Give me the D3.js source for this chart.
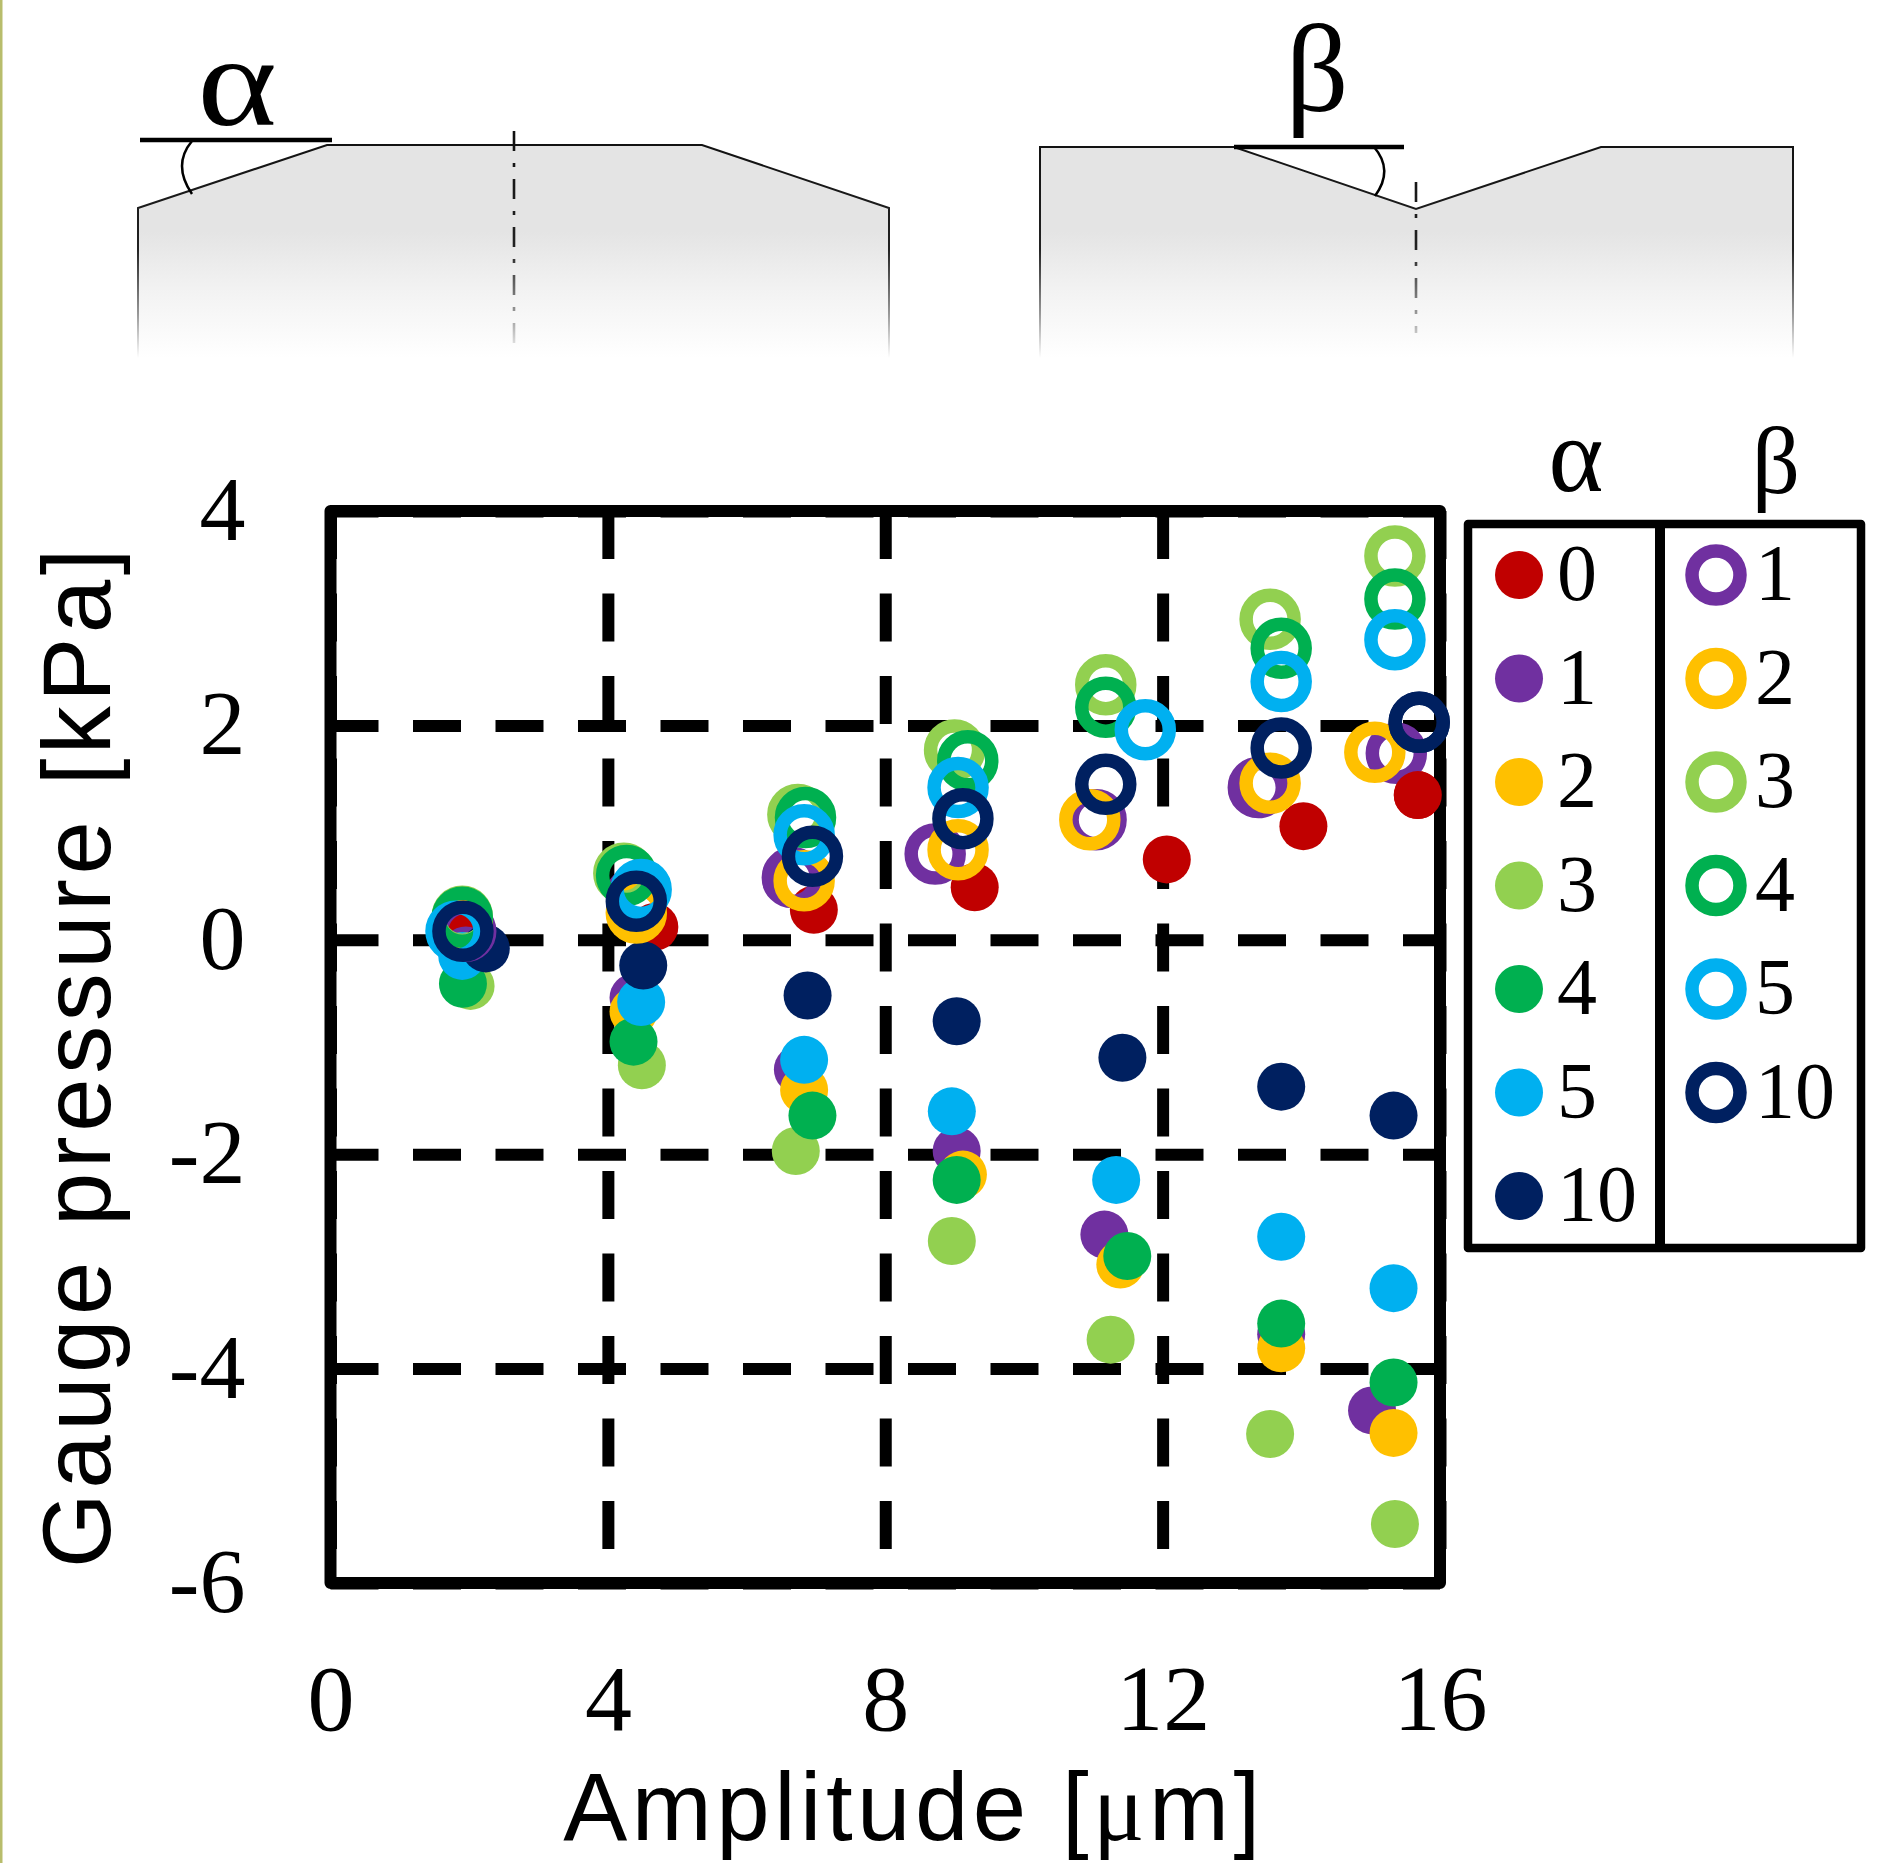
<!DOCTYPE html>
<html>
<head>
<meta charset="utf-8">
<script src="https://d3js.org/d3.v7.min.js"></script>
<style>
  html, body { margin: 0; padding: 0; background: #fff; }
  svg { display: block; }
  text { font-family: "Liberation Serif", serif; fill: #000; }
  .title { font-family: "Liberation Sans", sans-serif; }
</style>
</head>
<body>
<div id="chart"></div>
<script>
// [amplitude um, gauge pressure kPa]
var alpha0 = [[1.90, 0.05], [4.67, 0.12], [6.97, 0.28], [9.29, 0.49], [12.06, 0.75], [14.03, 1.06], [15.68, 1.35]];
var alpha1 = [[1.95, -0.10], [4.37, -0.54], [6.74, -1.21], [9.03, -1.97], [11.16, -2.75], [13.71, -3.68], [15.02, -4.39]];
var alpha2 = [[1.92, -0.15], [4.37, -0.67], [6.83, -1.40], [9.12, -2.19], [11.39, -3.03], [13.71, -3.81], [15.33, -4.60]];
var alpha3 = [[2.02, -0.43], [4.49, -1.17], [6.71, -1.97], [8.96, -2.81], [11.25, -3.73], [13.55, -4.61], [15.35, -5.45]];
var alpha4 = [[1.91, -0.41], [4.37, -0.95], [6.95, -1.64], [9.03, -2.24], [11.49, -2.95], [13.71, -3.58], [15.33, -4.13]];
var alpha5 = [[1.90, -0.15], [4.48, -0.58], [6.83, -1.12], [8.96, -1.60], [11.33, -2.24], [13.71, -2.77], [15.33, -3.25]];
var alpha10 = [[2.24, -0.08], [4.51, -0.24], [6.88, -0.52], [9.03, -0.76], [11.42, -1.10], [13.71, -1.37], [15.33, -1.64]];

var beta1 = [[1.95, 0.08], [4.41, 0.41], [6.66, 0.58], [8.72, 0.80], [11.04, 1.12], [13.38, 1.42], [15.37, 1.74]];
var beta2 = [[1.90, 0.16], [4.41, 0.25], [6.83, 0.55], [9.05, 0.84], [10.95, 1.12], [13.55, 1.46], [15.06, 1.75]];
var beta3 = [[1.90, 0.22], [4.23, 0.62], [6.74, 1.17], [9.00, 1.77], [11.18, 2.38], [13.55, 2.99], [15.35, 3.58]];
var beta4 = [[1.90, 0.21], [4.27, 0.60], [6.85, 1.14], [9.19, 1.67], [11.18, 2.17], [13.71, 2.72], [15.35, 3.18]];
var beta5 = [[1.81, 0.08], [4.48, 0.47], [6.83, 0.98], [9.05, 1.42], [11.75, 1.96], [13.71, 2.41], [15.35, 2.80]];
var beta10 = [[1.91, 0.08], [4.41, 0.36], [6.95, 0.78], [9.12, 1.13], [11.18, 1.45], [13.71, 1.79], [15.70, 2.03]];

var alphaNames = ["0", "1", "2", "3", "4", "5", "10"];
var alphaSeries = [alpha0, alpha1, alpha2, alpha3, alpha4, alpha5, alpha10];
var alphaColors = ["#c00000", "#7030a0", "#ffc000", "#92d050", "#00b050", "#00b0f0", "#002060"];

var betaNames = ["1", "2", "3", "4", "5", "10"];
var betaSeries = [beta1, beta2, beta3, beta4, beta5, beta10];
var betaColors = ["#7030a0", "#ffc000", "#92d050", "#00b050", "#00b0f0", "#002060"];

var xTicks = [0, 4, 8, 12, 16];
var xTickLabels = ["0", "4", "8", "12", "16"];
var yTicks = [4, 2, 0, -2, -4, -6];
var yTickLabels = ["4", "2", "0", "-2", "-4", "-6"];

var W = 1883, H = 1863;
var plot = {left: 330.5, right: 1440, top: 511, bottom: 1583};

var svg = d3.select("#chart").append("svg").attr("width", W).attr("height", H);

// olive strip down the left edge of the source picture
svg.append("rect").attr("width", 2.5).attr("height", H).attr("fill", "#b8bd6c");

var x = d3.scaleLinear().domain([0, 16]).range([plot.left, plot.right]);
var y = d3.scaleLinear().domain([-6, 4]).range([plot.bottom, plot.top]);

// ---- schematics on top ----
var defs = svg.append("defs");

function fade(id, stops) {
    var g = defs.append("linearGradient").attr("id", id)
        .attr("gradientUnits", "userSpaceOnUse")
        .attr("x1", 0).attr("x2", 0).attr("y1", 140).attr("y2", 358);
    stops.forEach(function (s) {
        g.append("stop").attr("offset", s[0]).attr("stop-color", s[1]);
    });
}
fade("bodyFill", [[0, "#e4e4e4"], [0.42, "#e4e4e4"], [0.68, "#f2f2f2"], [1, "#ffffff"]]);
fade("bodyLine", [[0, "#111111"], [0.5, "#222222"], [0.8, "#999999"], [1, "#ffffff"]]);

var shape = d3.line();
var bodyA = [[138, 358], [138, 208], [327, 145], [702, 145], [889, 208], [889, 358]];
var bodyB = [[1040, 358], [1040, 147], [1234, 147], [1416, 209], [1601, 147], [1793, 147], [1793, 358]];

[bodyA, bodyB].forEach(function (b) {
    svg.append("path").attr("d", shape(b)).attr("fill", "url(#bodyFill)")
        .attr("stroke", "url(#bodyLine)").attr("stroke-width", 2);
});

var dashDot = "20 12 4 12";
svg.append("line").attr("x1", 514).attr("x2", 514.01).attr("y1", 131).attr("y2", 343)
    .attr("stroke", "url(#bodyLine)").attr("stroke-width", 2.6).attr("stroke-dasharray", dashDot);
svg.append("line").attr("x1", 1416).attr("x2", 1416.01).attr("y1", 182).attr("y2", 333)
    .attr("stroke", "url(#bodyLine)").attr("stroke-width", 2.6).attr("stroke-dasharray", dashDot);

svg.append("line").attr("x1", 140).attr("x2", 332).attr("y1", 140).attr("y2", 140)
    .attr("stroke", "#000").attr("stroke-width", 4.5);
svg.append("line").attr("x1", 1234).attr("x2", 1404).attr("y1", 147).attr("y2", 147)
    .attr("stroke", "#000").attr("stroke-width", 4.5);

svg.append("path").attr("d", "M192,141 Q172,165 192,194")
    .attr("fill", "none").attr("stroke", "#000").attr("stroke-width", 2.5);
svg.append("path").attr("d", "M1374,147 Q1394,170 1375,196")
    .attr("fill", "none").attr("stroke", "#000").attr("stroke-width", 2.5);

svg.append("text").attr("transform", "translate(237,125) scale(1.17,1)").attr("text-anchor", "middle")
    .attr("font-size", 130).text("α");
svg.append("text").attr("x", 1317).attr("y", 111).attr("text-anchor", "middle")
    .attr("font-size", 124).text("β");

// ---- dashed grid, dashes start at the top and left edge ----
var gridX = svg.append("g")
    .attr("transform", "translate(0," + plot.top + ")")
    .call(d3.axisTop(x).tickValues(xTicks).tickSize(-(plot.bottom - plot.top)).tickFormat(""));
var gridY = svg.append("g")
    .attr("transform", "translate(" + plot.left + ",0)")
    .call(d3.axisLeft(y).tickValues(yTicks).tickSize(-(plot.right - plot.left)).tickPadding(85)
        .tickFormat(function (d, i) { return yTickLabels[i]; }));

[gridX, gridY].forEach(function (g) {
    g.select(".domain").remove();
    g.selectAll(".tick line").attr("stroke", "#000").attr("stroke-width", 12)
        .attr("stroke-dasharray", "48 34.5");
});
gridY.selectAll(".tick text").attr("font-size", 92)
    .attr("font-family", "Liberation Serif").attr("fill", "#000").attr("dy", "0.31em");

var axisX = svg.append("g")
    .attr("transform", "translate(0," + plot.bottom + ")")
    .call(d3.axisBottom(x).tickValues(xTicks).tickSize(0).tickPadding(80)
        .tickFormat(function (d, i) { return xTickLabels[i]; }));
axisX.select(".domain").remove();
axisX.selectAll(".tick text").attr("font-size", 94)
    .attr("font-family", "Liberation Serif").attr("fill", "#000");

// ---- markers: filled alpha first, open beta on top ----
var R = 24, ringR = 24, ringW = 13.5;

alphaSeries.forEach(function (s, i) {
    svg.append("g").selectAll("circle").data(s).join("circle")
        .attr("cx", function (d) { return x(d[0]); })
        .attr("cy", function (d) { return y(d[1]); })
        .attr("r", R)
        .attr("fill", alphaColors[i]);
});
betaSeries.forEach(function (s, i) {
    svg.append("g").selectAll("circle").data(s).join("circle")
        .attr("cx", function (d) { return x(d[0]); })
        .attr("cy", function (d) { return y(d[1]); })
        .attr("r", ringR)
        .attr("fill", "none")
        .attr("stroke", betaColors[i])
        .attr("stroke-width", ringW);
});

// frame
svg.append("rect")
    .attr("x", plot.left).attr("y", plot.top)
    .attr("width", plot.right - plot.left).attr("height", plot.bottom - plot.top)
    .attr("fill", "none").attr("stroke", "#000").attr("stroke-width", 12)
    .attr("stroke-linejoin", "round");

// re-draw the ring and dot that overlap the right frame edge
svg.append("circle").attr("cx", x(beta10[6][0])).attr("cy", y(beta10[6][1])).attr("r", ringR)
    .attr("fill", "none").attr("stroke", betaColors[5]).attr("stroke-width", ringW);
svg.append("circle").attr("cx", x(alpha0[6][0])).attr("cy", y(alpha0[6][1])).attr("r", R)
    .attr("fill", alphaColors[0]);

// axis titles
svg.append("text").attr("class", "title")
    .attr("x", 914).attr("y", 1840).attr("text-anchor", "middle").attr("font-size", 96)
    .attr("letter-spacing", 4.5)
    .html('Amplitude [<tspan font-family="Liberation Serif">μ</tspan>m]');
svg.append("text").attr("class", "title")
    .attr("transform", "translate(110,1056) rotate(-90)")
    .attr("text-anchor", "middle").attr("font-size", 96)
    .attr("letter-spacing", 4.5)
    .text("Gauge pressure [kPa]");

// ---- legend ----
var legendY = d3.scaleLinear().domain([0, 6]).range([575, 1196]);

svg.append("rect").attr("x", 1468).attr("y", 524).attr("width", 393).attr("height", 724)
    .attr("fill", "none").attr("stroke", "#000").attr("stroke-width", 8.5).attr("stroke-linejoin", "round");
svg.append("line").attr("x1", 1660).attr("x2", 1660).attr("y1", 524).attr("y2", 1248)
    .attr("stroke", "#000").attr("stroke-width", 10);

svg.append("text").attr("x", 1576).attr("y", 491).attr("text-anchor", "middle")
    .attr("font-size", 105).text("α");
svg.append("text").attr("x", 1776).attr("y", 493).attr("text-anchor", "middle")
    .attr("font-size", 95).text("β");

alphaNames.forEach(function (name, i) {
    svg.append("circle").attr("cx", 1519).attr("cy", legendY(i)).attr("r", R)
        .attr("fill", alphaColors[i]);
    svg.append("text").attr("x", 1557).attr("y", legendY(i) + 25)
        .attr("font-size", 80).text(name);
});
betaNames.forEach(function (name, i) {
    svg.append("circle").attr("cx", 1716).attr("cy", legendY(i)).attr("r", ringR)
        .attr("fill", "none").attr("stroke", betaColors[i]).attr("stroke-width", ringW);
    svg.append("text").attr("x", 1755).attr("y", legendY(i) + 25)
        .attr("font-size", 80).text(name);
});
</script>
</body>
</html>
